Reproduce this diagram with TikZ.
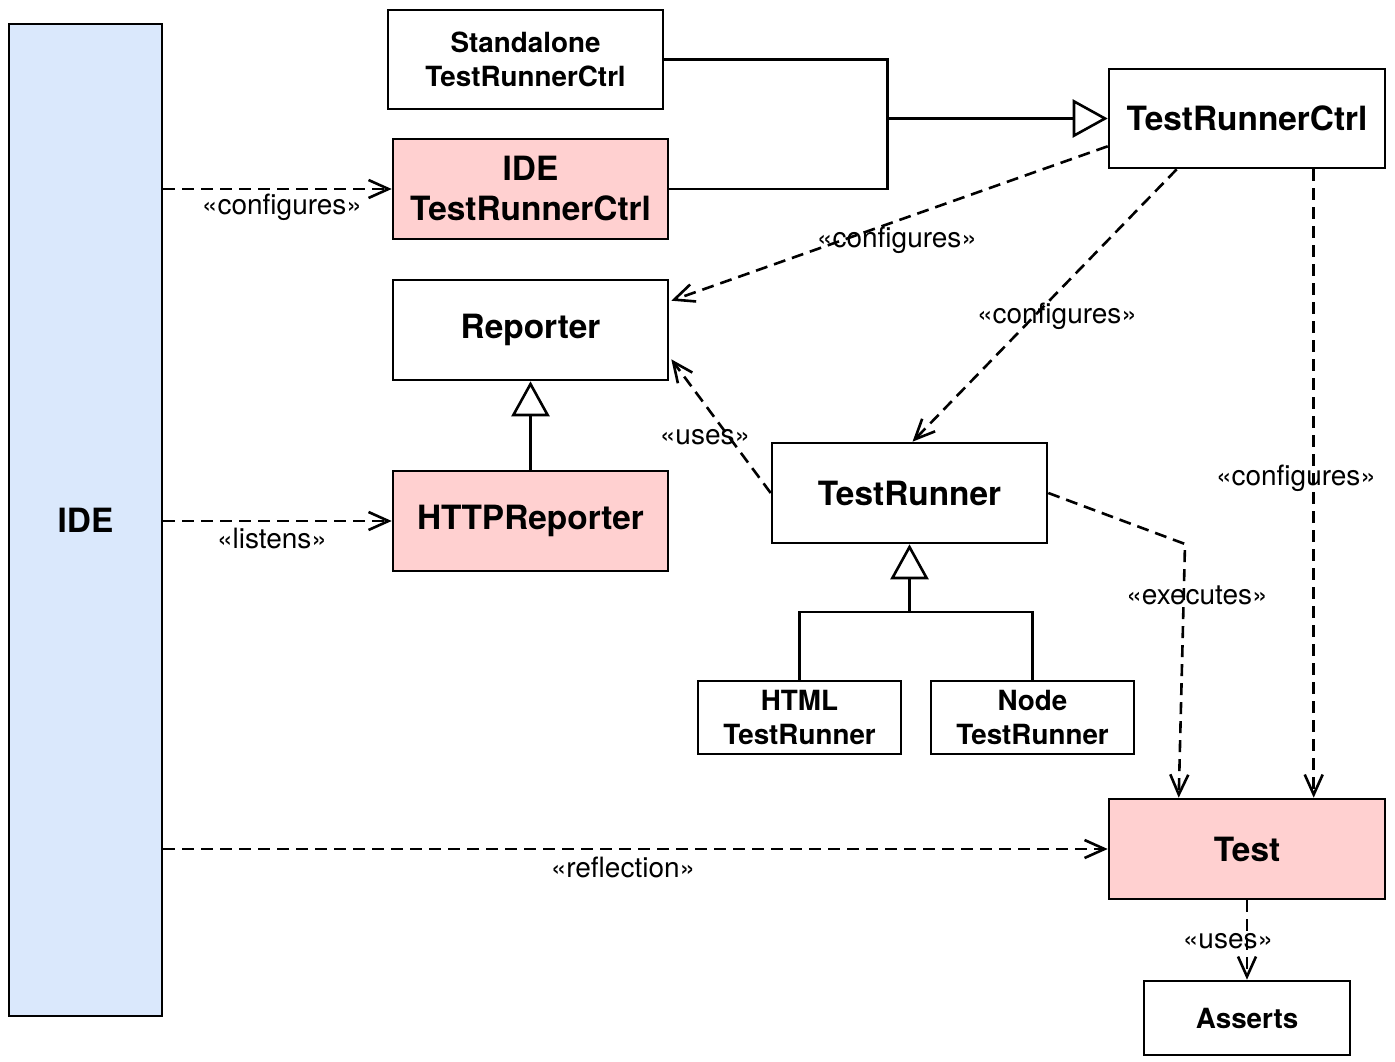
\documentclass[tikz,border=0pt]{standalone}
\usepackage{fontspec}
\setmainfont{TeX Gyre Heros}
\usetikzlibrary{arrows.meta,calc}
\definecolor{ideblue}{HTML}{DAE8FC}
\definecolor{hlpink}{HTML}{FFD0D0}
\begin{document}
\begin{tikzpicture}[x=1pt,y=-1pt,
  box/.style={draw=black,line width=2.6pt,rectangle,align=center,inner sep=0pt,font=\bfseries\fontsize{33.4}{40}\selectfont},
  mbox/.style={box,font=\bfseries\fontsize{27.8}{33.5}\selectfont},
  pinkbox/.style={fill=hlpink},
  dep/.style={line width=2.6pt,dash pattern=on 12pt off 7pt,-{Straight Barb[length=20pt,width=18pt,line width=2.6pt]}},
  gen/.style={line width=2.6pt,-{Triangle[open,length=35pt,width=38pt,line width=2.6pt,fill=white]}},
  plain/.style={line width=2.6pt},
  lab/.style={inner sep=0pt,font=\fontsize{28}{32}\selectfont}]
\useasboundingbox (0,0) rectangle (1395,1062);
\fill[white] (0,0) rectangle (1395,1062);
% nodes
\node[box,fill=ideblue,minimum width=153pt,minimum height=992pt] (ide) at (85.5,520) {IDE};
\node[mbox,minimum width=275pt,minimum height=99pt] (sa) at (525.5,59.5) {Standalone\\TestRunnerCtrl};
\node[box,pinkbox,minimum width=275pt,minimum height=100pt] (idec) at (530.5,189) {IDE\\TestRunnerCtrl};
\node[box,minimum width=275pt,minimum height=100pt] (rep) at (530.5,330) {Reporter};
\node[box,pinkbox,minimum width=275pt,minimum height=100pt] (http) at (530.5,521) {HTTPReporter};
\node[box,minimum width=276pt,minimum height=99pt] (trc) at (1247,118.5) {TestRunnerCtrl};
\node[box,minimum width=275pt,minimum height=100pt] (tr) at (909.5,493) {TestRunner};
\node[mbox,minimum width=203pt,minimum height=73pt] (html) at (799.5,717.5) {HTML\\TestRunner};
\node[mbox,minimum width=203pt,minimum height=73pt] (nodetr) at (1032.5,717.5) {Node\\TestRunner};
\node[box,pinkbox,minimum width=276pt,minimum height=100pt] (test) at (1247,849) {Test};
\node[mbox,minimum width=206pt,minimum height=74pt] (asserts) at (1247,1018) {Asserts};
% generalization to TestRunnerCtrl
\coordinate (j1) at (887.5,118.5);
\draw[plain] (sa.east) -| (j1);
\draw[plain] (idec.east) -| (j1);
\draw[gen] (j1) -- (trc.west);
% generalization Reporter
\draw[gen] (http.north) -- (rep.south);
% generalization TestRunner
\coordinate (j2) at (909.5,612);
\draw[plain] (html.north) |- (j2) -| (nodetr.north);
\draw[gen] (j2) -- (tr.south);
% dependencies
\draw[dep] (ide.east |- idec.west) -- (idec.west);
\node[lab] (l1) at (282,207) {«configures»};
\draw[dep] ($(trc.south west)+(0,-23)$) -- ($(rep.north east)+(2,22)$);
\node[lab] (l2) at (897,240) {«configures»};
\draw[dep] ($(trc.south west)+(69,0)$) -- ($(tr.north)+(3,0)$);
\node[lab] (l3) at (1057,316) {«configures»};
\draw[dep] ($(trc.south west)+(206,0)$) -- ($(test.north west)+(206,0)$);
\node[lab] (l4) at (1296,478) {«configures»};
\draw[dep] (ide.east |- http.west) -- (http.west);
\node[lab] (l5) at (272,538) {«listens»};
\draw[dep] (tr.west) -- ($(rep.south east)+(2,-22)$);
\node[lab] (l6) at (705,437) {«uses»};
\coordinate (k1) at (1185,544);
\draw[dep] (tr.east) -- (k1) -- ($(test.north west)+(71,0)$);
\node[lab] (l7) at (1197,595) {«executes»};
\draw[dep] (ide.east |- test.west) -- (test.west);
\node[lab] (l8) at (623,867) {«reflection»};
\draw[dep] (test.south) -- (asserts.north);
\node[lab] (l9) at (1228,941) {«uses»};
\end{tikzpicture}
\end{document}
